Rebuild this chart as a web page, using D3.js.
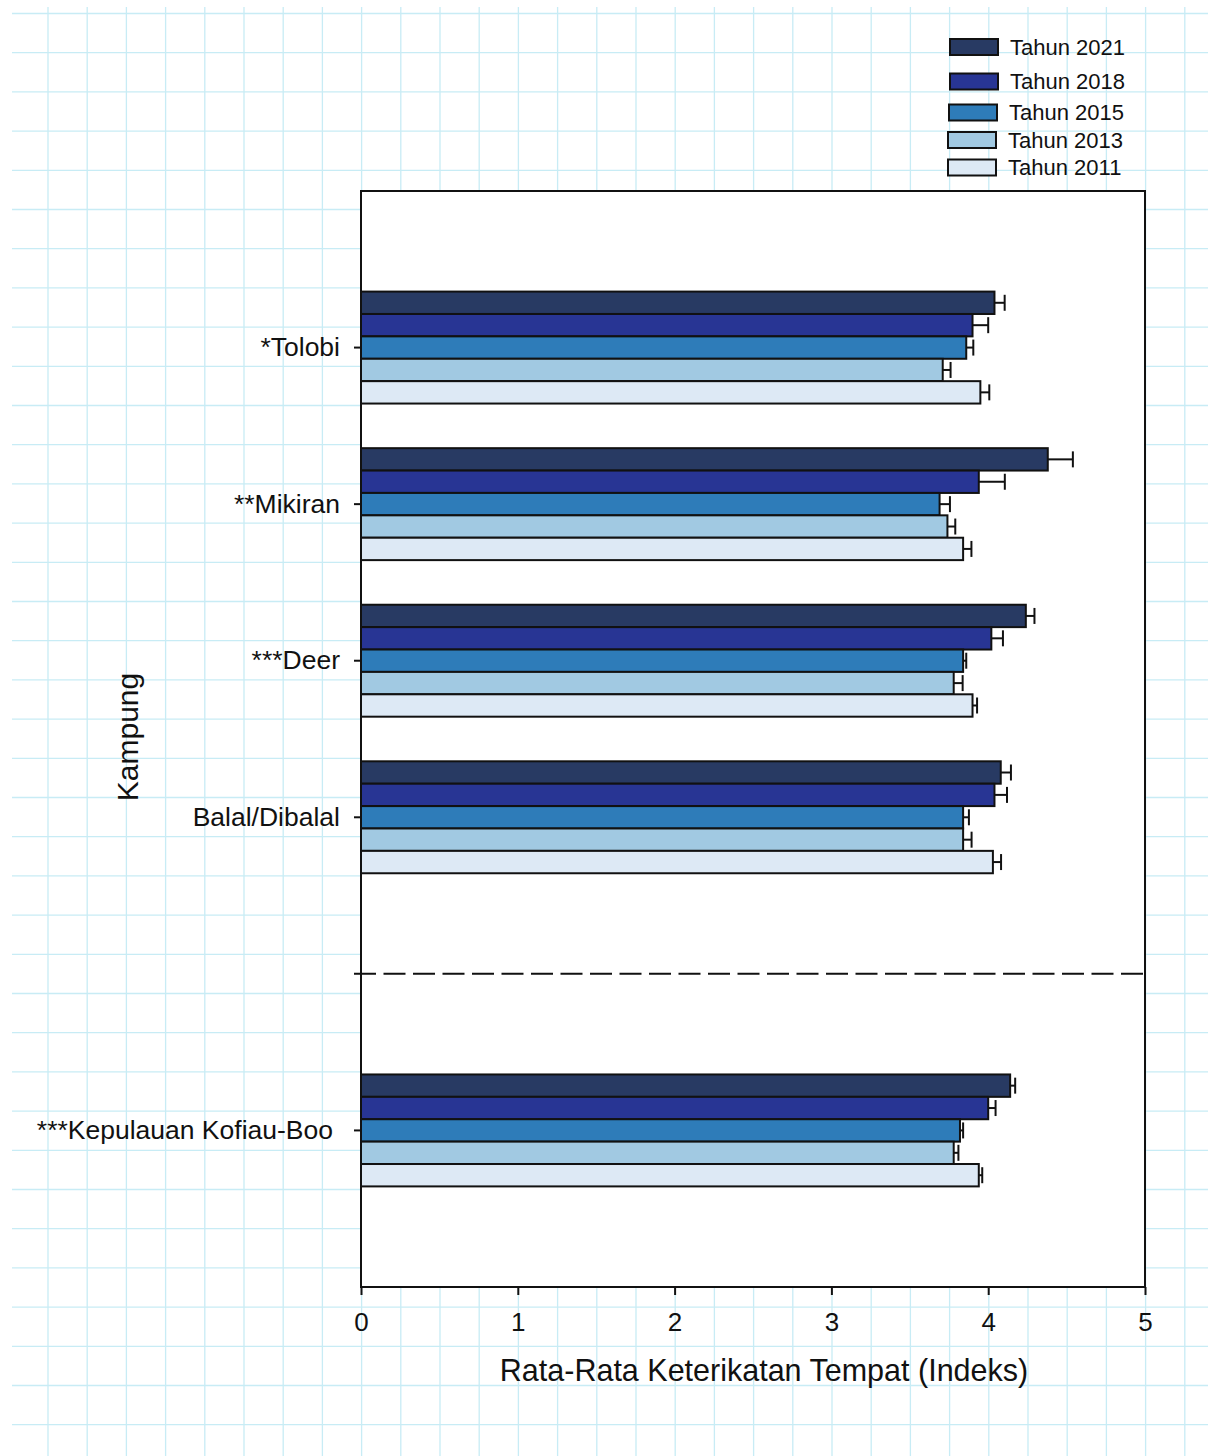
<!DOCTYPE html>
<html>
<head>
<meta charset="utf-8">
<script src="https://cdn.jsdelivr.net/npm/d3@7"></script>
<style>
  html, body { margin: 0; padding: 0; background: #ffffff; }
  svg { display: block; }
  text { font-family: "Liberation Sans", Arial, sans-serif; fill: #111; }
</style>
</head>
<body>
<svg id="chart" width="1208" height="1456"></svg>
<script>
// ---------- data ----------
const categories = ["*Tolobi", "**Mikiran", "***Deer", "Balal/Dibalal", "***Kepulauan Kofiau-Boo"];
const separatorKey = "__separator__";
const series = ["Tahun 2021", "Tahun 2018", "Tahun 2015", "Tahun 2013", "Tahun 2011"];
const seriesColors = ["#283a63", "#283594", "#2e7cb9", "#a1c9e2", "#dde9f5"];
// values per series, in the order of categories
const values2021 = [4.04, 4.38, 4.24, 4.08, 4.14];
const values2018 = [3.90, 3.94, 4.02, 4.04, 4.00];
const values2015 = [3.86, 3.69, 3.84, 3.84, 3.82];
const values2013 = [3.71, 3.74, 3.78, 3.84, 3.78];
const values2011 = [3.95, 3.84, 3.90, 4.03, 3.94];
// error (one-sided, drawn to the right)
const errors2021 = [0.065, 0.16, 0.055, 0.065, 0.032];
const errors2018 = [0.10, 0.166, 0.074, 0.08, 0.047];
const errors2015 = [0.045, 0.066, 0.02, 0.037, 0.02];
const errors2013 = [0.05, 0.05, 0.057, 0.054, 0.03];
const errors2011 = [0.057, 0.053, 0.029, 0.052, 0.022];
const xTicks = [0, 1, 2, 3, 4, 5];
const xTitle = "Rata-Rata Keterikatan Tempat (Indeks)";
const yTitle = "Kampung";

const seriesValues = [values2021, values2018, values2015, values2013, values2011];
const seriesErrors = [errors2021, errors2018, errors2015, errors2013, errors2011];

// ---------- layout ----------
const W = 1208, H = 1456;
const plot = { left: 361, right: 1145, top: 191, bottom: 1287 };
const svg = d3.select("#chart");

// background graph-paper grid
const gridColor = "#c8ecf5";
const grid = svg.append("g").attr("class", "grid");
const gx0 = 12, gy0 = 7, gStep = 39.2;
grid.selectAll("line.v").data(d3.range(48, W, gStep)).join("line")
  .attr("x1", d => d).attr("x2", d => d).attr("y1", gy0).attr("y2", H)
  .attr("stroke", gridColor).attr("stroke-width", 1.3);
grid.selectAll("line.h").data(d3.range(13.5, H, gStep)).join("line")
  .attr("x1", gx0).attr("x2", W).attr("y1", d => d).attr("y2", d => d)
  .attr("stroke", gridColor).attr("stroke-width", 1.3);

// plot background
svg.append("rect")
  .attr("x", plot.left).attr("y", plot.top)
  .attr("width", plot.right - plot.left).attr("height", plot.bottom - plot.top)
  .attr("fill", "#ffffff");

// scales
const x = d3.scaleLinear().domain([0, 5]).range([plot.left, plot.right]);
const slots = categories.slice(0, 4).concat([separatorKey], categories.slice(4));
const y = d3.scaleBand().domain(slots).range([plot.top, plot.bottom])
  .paddingInner(0).paddingOuter(0.5);
const groupH = y.bandwidth() * 0.715;
const ySub = d3.scaleBand().domain(series).range([-groupH / 2, groupH / 2]).padding(0);

// bars
const barData = [];
series.forEach((s, si) => {
  categories.forEach((c, ci) => {
    barData.push({ cat: c, series: s, si, value: seriesValues[si][ci], err: seriesErrors[si][ci] });
  });
});

const gBars = svg.append("g");
gBars.selectAll("rect").data(barData).join("rect")
  .attr("x", x(0))
  .attr("y", d => y(d.cat) + y.bandwidth() / 2 + ySub(d.series))
  .attr("width", d => x(d.value) - x(0))
  .attr("height", ySub.bandwidth())
  .attr("fill", d => seriesColors[d.si])
  .attr("stroke", "#111")
  .attr("stroke-width", 2);

// error bars
const capH = 16;
const gErr = svg.append("g").attr("stroke", "#111").attr("stroke-width", 2);
barData.forEach(d => {
  const cy = y(d.cat) + y.bandwidth() / 2 + ySub(d.series) + ySub.bandwidth() / 2;
  gErr.append("line").attr("x1", x(d.value)).attr("x2", x(d.value + d.err))
    .attr("y1", cy).attr("y2", cy);
  gErr.append("line").attr("x1", x(d.value + d.err)).attr("x2", x(d.value + d.err))
    .attr("y1", cy - capH / 2).attr("y2", cy + capH / 2);
});

// dashed separator
const sepY = y(separatorKey) + y.bandwidth() / 2;
svg.append("line")
  .attr("x1", plot.left - 7).attr("x2", plot.right)
  .attr("y1", sepY).attr("y2", sepY)
  .attr("stroke", "#111").attr("stroke-width", 2)
  .attr("stroke-dasharray", "22,7.5");

// frame
svg.append("rect")
  .attr("x", plot.left).attr("y", plot.top)
  .attr("width", plot.right - plot.left).attr("height", plot.bottom - plot.top)
  .attr("fill", "none").attr("stroke", "#111").attr("stroke-width", 2);

// x axis
const xAxis = d3.axisBottom(x).tickValues(xTicks).tickFormat(d3.format("d"))
  .tickSize(8).tickSizeOuter(0).tickPadding(18);
const gx = svg.append("g").attr("transform", `translate(0,${plot.bottom})`).call(xAxis);
gx.select(".domain").remove();
gx.selectAll(".tick line").attr("stroke", "#111").attr("stroke-width", 2);
gx.selectAll(".tick text").style("font-family", '"Liberation Sans", Arial, sans-serif')
  .style("font-size", "26px").attr("fill", "#111");

// y axis
const yAxis = d3.axisLeft(y).tickValues(categories).tickSize(7).tickSizeOuter(0).tickPadding(14);
const gy = svg.append("g").attr("transform", `translate(${plot.left},0)`).call(yAxis);
gy.select(".domain").remove();
gy.selectAll(".tick line").attr("stroke", "#111").attr("stroke-width", 2);
gy.selectAll(".tick text").style("font-family", '"Liberation Sans", Arial, sans-serif')
  .style("font-size", "26.5px").attr("fill", "#111")
  .attr("dx", d => d === categories[4] ? -7 : 0);

// axis titles
svg.append("text")
  .attr("x", 764).attr("y", 1381)
  .attr("text-anchor", "middle")
  .style("font-size", "30.5px")
  .text(xTitle);

svg.append("text")
  .attr("transform", "translate(138,737) rotate(-90)")
  .attr("text-anchor", "middle")
  .style("font-size", "30px")
  .text(yTitle);

// legend
const legendRowY = [47, 81.5, 112.5, 140, 167.5];
const legendSwX = [950, 950, 949, 948, 948];
const lg = svg.append("g");
series.forEach((s, i) => {
  lg.append("rect")
    .attr("x", legendSwX[i]).attr("y", legendRowY[i] - 8)
    .attr("width", 48).attr("height", 16)
    .attr("fill", seriesColors[i]).attr("stroke", "#111").attr("stroke-width", 2);
  lg.append("text")
    .attr("x", legendSwX[i] + 60).attr("y", legendRowY[i])
    .attr("dy", "0.36em")
    .style("font-size", "22px")
    .text(s);
});
</script>
</body>
</html>
